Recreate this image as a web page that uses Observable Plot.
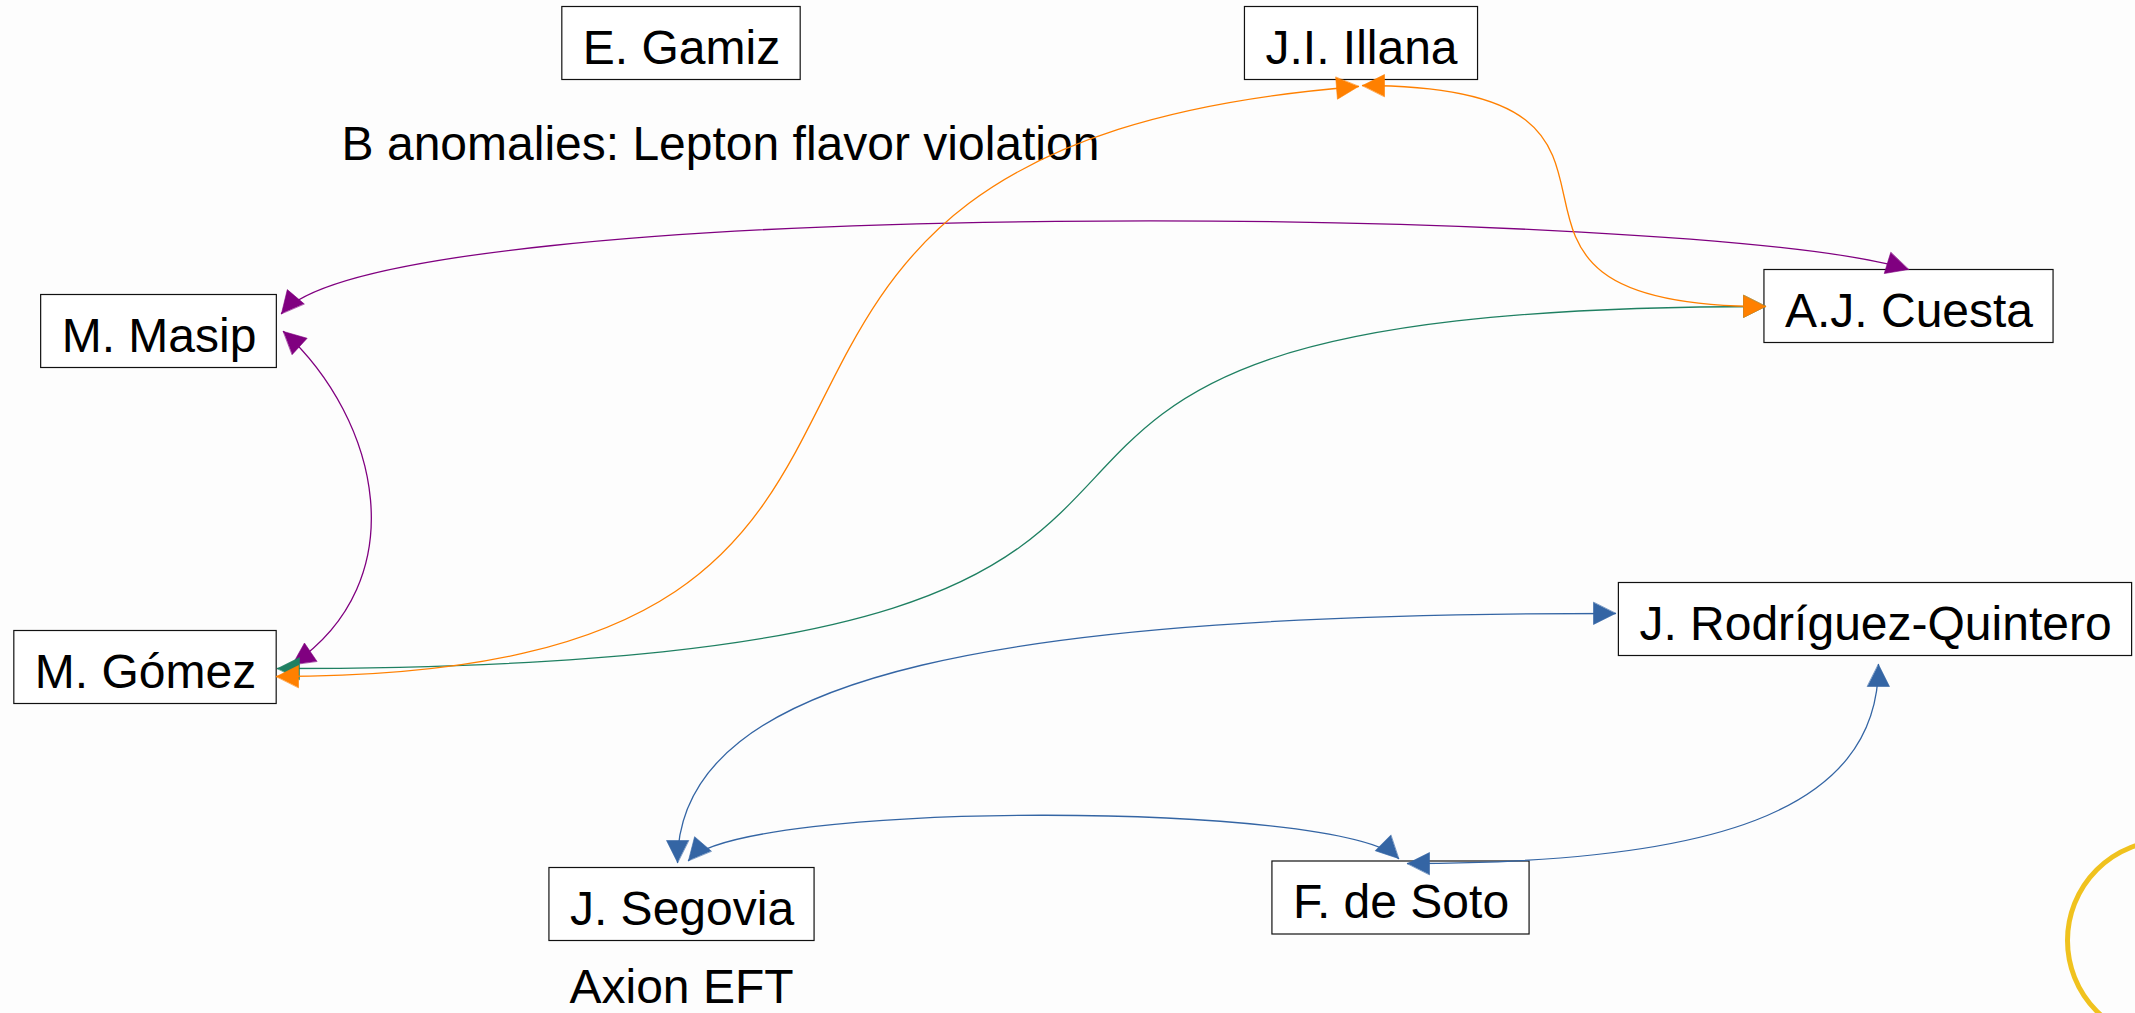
<!DOCTYPE html>
<html>
<head>
<meta charset="utf-8">
<script src="https://cdn.jsdelivr.net/npm/d3@7"></script>
<script src="https://cdn.jsdelivr.net/npm/@observablehq/plot@0.6"></script>
<style>
  html, body { margin: 0; padding: 0; background: #fdfdfd; overflow: hidden; }
  #chart svg { display: block; }
</style>
</head>
<body>
<div id="chart"></div>
<script>
const W = 2135, H = 1013;

// ---- Nodes (people) ----
const nodeNames = ["E. Gamiz", "J.I. Illana", "M. Masip", "A.J. Cuesta", "M. Gómez",
                   "J. Rodríguez-Quintero", "J. Segovia", "F. de Soto"];
const nodeX = [681, 1361, 158.5, 1908.5, 145, 1875, 681.5, 1400.5];
const nodeY = [43, 43, 331, 306, 667, 619, 904, 897.5];

// ---- Topic labels ----
const topicLabels = ["B anomalies: Lepton flavor violation", "Axion EFT"];
const topicX = [720, 681];
const topicY = [144, 987];

// ---- Collaboration links (cubic Bézier: start, control1, control2, end) ----
const edgeFrom  = ["M. Masip", "M. Masip", "M. Gómez", "M. Gómez", "J.I. Illana", "J. Segovia", "J. Segovia", "F. de Soto"];
const edgeTo    = ["A.J. Cuesta", "M. Gómez", "A.J. Cuesta", "J.I. Illana", "A.J. Cuesta", "J. Rodríguez-Quintero", "F. de Soto", "J. Rodríguez-Quintero"];
const edgeColor = ["#800080", "#800080", "#1f8062", "#ff8000", "#ff8000", "#3465a4", "#3465a4", "#3465a4"];
const edgePath = [
  [281, 313, 385, 190, 1700, 205, 1908, 269],
  [283, 331, 380, 420, 415, 580, 292, 664],
  [277, 668, 1509, 668, 704, 306, 1765, 306],
  [276, 676, 1080, 676, 560, 150, 1358, 86],
  [1362, 85, 1718, 85, 1409, 306, 1765, 306],
  [677, 862, 677, 668, 1015, 613, 1615, 613],
  [688, 860, 740, 800, 1340, 800, 1398, 858],
  [1407, 863, 1707, 863, 1878, 814, 1878, 664]
];

// ---- Decoration (partial ring at bottom right) ----
const ringX = [2167], ringY = [940], ringR = 100, ringColor = "#f0c21e";

// ---------------------------------------------------------------
const FONT = "'Liberation Sans', Arial, sans-serif";
const FS = 48;
const ctx = document.createElement("canvas").getContext("2d");
ctx.font = `${FS}px 'Liberation Sans'`;

const nodes = nodeNames.map((name, i) => {
  const tw = ctx.measureText(name).width;
  const hw = tw / 2 + 20.5;
  return {name, x: nodeX[i], y: nodeY[i], x1: nodeX[i] - hw, x2: nodeX[i] + hw, y1: nodeY[i] - 36.5, y2: nodeY[i] + 36.5};
});
const topics = topicLabels.map((t, i) => ({text: t, x: topicX[i], y: topicY[i]}));

const linePts = [];
const arrowPts = [];
const AL = 22, AW = 11;
function addArrow(id, color, tx, ty, fx, fy) {
  let dx = tx - fx, dy = ty - fy;
  const len = Math.hypot(dx, dy);
  dx /= len; dy /= len;
  const bx = tx - dx * AL, by = ty - dy * AL;
  const nx = -dy, ny = dx;
  arrowPts.push({id, color, x: tx, y: ty});
  arrowPts.push({id, color, x: bx + nx * AW, y: by + ny * AW});
  arrowPts.push({id, color, x: bx - nx * AW, y: by - ny * AW});
}
edgePath.forEach((p, i) => {
  const color = edgeColor[i];
  for (let k = 0; k < 4; k++) linePts.push({id: i, color, x: p[2 * k], y: p[2 * k + 1]});
  addArrow(i * 2, color, p[0], p[1], p[2], p[3]);
  addArrow(i * 2 + 1, color, p[6], p[7], p[4], p[5]);
});

// custom cubic Bézier curve factory: 4 points -> one cubic segment
function bezier(context) {
  let pts = [];
  return {
    areaStart() {}, areaEnd() {},
    lineStart() { pts = []; },
    lineEnd() {
      if (pts.length === 4) {
        context.moveTo(pts[0][0], pts[0][1]);
        context.bezierCurveTo(pts[1][0], pts[1][1], pts[2][0], pts[2][1], pts[3][0], pts[3][1]);
      } else if (pts.length) {
        context.moveTo(pts[0][0], pts[0][1]);
        for (const q of pts.slice(1)) context.lineTo(q[0], q[1]);
      }
    },
    point(x, y) { pts.push([+x, +y]); }
  };
}

const order = ["#800080", "#1f8062", "#ff8000", "#3465a4"];
const edgeMarks = [];
for (const c of order) {
  edgeMarks.push(Plot.line(linePts.filter(d => d.color === c), {x: "x", y: "y", z: "id", stroke: c, strokeWidth: 1.3, curve: bezier}));
  edgeMarks.push(Plot.line(arrowPts.filter(d => d.color === c), {x: "x", y: "y", z: "id", fill: c, stroke: c, strokeWidth: 0.6, curve: "linear-closed"}));
}

const chart = Plot.plot({
  width: W,
  height: H,
  margin: 0,
  x: {type: "linear", domain: [0, W], range: [0, W], axis: null},
  y: {type: "linear", domain: [0, H], range: [0, H], axis: null},
  style: {background: "#fdfdfd", overflow: "hidden"},
  marks: [
    Plot.dot(ringX.map((x, i) => ({x, y: ringY[i]})), {x: "x", y: "y", r: ringR, stroke: ringColor, strokeWidth: 5, fill: "none"}),
    Plot.rect(nodes, {x1: "x1", x2: "x2", y1: "y1", y2: "y2", fill: "white", stroke: "#111", strokeWidth: 1.2}),
    Plot.text(nodes, {x: "x", y: "y", text: "name", fontSize: FS, fontFamily: FONT, fill: "#000", dy: 5}),
    Plot.text(topics, {x: "x", y: "y", text: "text", fontSize: FS, fontFamily: FONT, fill: "#000"}),
    ...edgeMarks
  ]
});
document.getElementById("chart").appendChild(chart);
</script>
</body>
</html>
